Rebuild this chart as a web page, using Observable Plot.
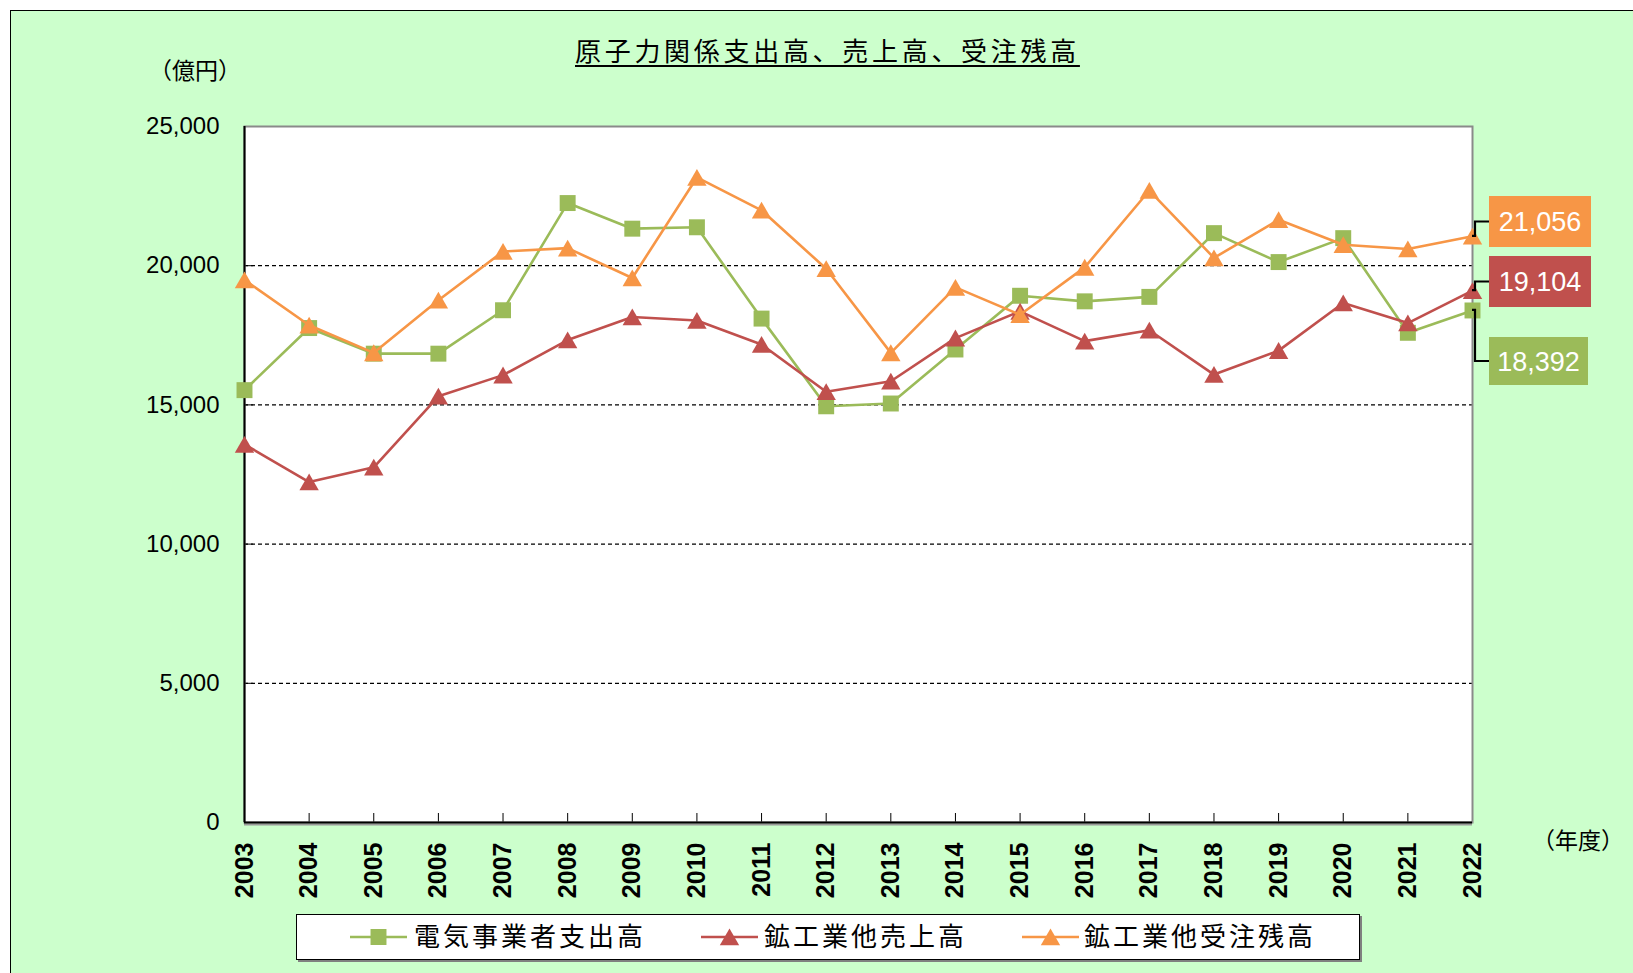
<!DOCTYPE html>
<html><head><meta charset="utf-8">
<script src="https://cdn.jsdelivr.net/npm/d3@7"></script>
<script src="https://cdn.jsdelivr.net/npm/@observablehq/plot@0.6"></script>
<style>
body{margin:0;background:#fff;}
#page{position:relative;width:1633px;height:973px;overflow:hidden;background:#fff;font-family:"Noto Sans CJK JP",sans-serif;}
#panel{position:absolute;left:10px;top:10px;width:1700px;height:1000px;background:#CCFFCC;border-left:1.5px solid #000;border-top:1.5px solid #000;}
#chart{position:absolute;left:0;top:0;}
.lbl{position:absolute;white-space:nowrap;color:#000;line-height:26px;}
#legend{position:absolute;left:296px;top:914px;width:1062px;height:44px;border:1.5px solid #000;background:#fff;box-shadow:2px 2px 0 #808080;}
</style></head>
<body>
<div id="page">
  <div id="panel"></div>
  <div id="chart"></div>
  <div class="lbl" id="title" style="left:575px;top:37px;font-size:26px;letter-spacing:3.7px;text-decoration:underline;text-decoration-thickness:1.5px;text-underline-offset:4px;"></div>
  <div class="lbl" id="yunit" style="left:149px;top:58px;width:92px;text-align:center;font-size:23px;line-height:23px;"></div>
  <div class="lbl" id="xunit" style="left:1532px;top:828px;width:92px;text-align:center;font-size:23px;line-height:23px;"></div>
  <div id="legend"></div>
</div>
<script>
const titleText = "原子力関係支出高、売上高、受注残高";
const yUnit = "（億円）";
const xUnit = "（年度）";
const years = [2003,2004,2005,2006,2007,2008,2009,2010,2011,2012,2013,2014,2015,2016,2017,2018,2019,2020,2021,2022];
const seriesNames = ["電気事業者支出高","鉱工業他売上高","鉱工業他受注残高"];
const electric = [15530,17760,16840,16840,18400,22250,21330,21380,18100,14950,15050,16990,18920,18720,18880,21170,20130,20990,17590,18392];
const sales    = [13580,12230,12760,15310,16070,17330,18160,18030,17170,15470,15850,17400,18360,17290,17680,16090,16950,18660,17940,19104];
const backlog  = [19490,17860,16870,18760,20510,20630,19560,23170,21990,19890,16870,19220,18240,19940,22700,20280,21650,20750,20600,21056];
const yTicks = [0,5000,10000,15000,20000,25000];
const gridTicks = [5000,10000,15000,20000];
const colors = ["#9BBB59","#C0504D","#F79646"];
const symbols = ["square","triangle","triangle"];

const seriesValues = [electric, sales, backlog];
const tables = seriesValues.map((vals, i) => years.map((yr, j) => ({year: yr, value: vals[j], series: seriesNames[i]})));

const fmt = d3.format(",");
const symR = s => s === "square" ? 9 : 7.2;
const symDy = s => s === "square" ? 0 : 2.7;

const marks = [
  Plot.frame({fill: "#fff"}),
  Plot.gridY(gridTicks, {stroke: "#000", strokeOpacity: 1, strokeWidth: 1.2, strokeDasharray: "4,3"}),
  Plot.tickY(yTicks, {y: d => d, insetRight: 1228 - 9, stroke: "#000"}),
  Plot.tickX(years, {x: d => d, insetTop: 696 - 9, stroke: "#000"}),
  Plot.frame({stroke: "#8a8a8a", strokeWidth: 2}),
  Plot.ruleY([0], {dy: 2, stroke: "#9a9a9a", strokeWidth: 2}),
  Plot.ruleX([years[0]], {stroke: "#000", strokeWidth: 2}),
  Plot.ruleY([0], {stroke: "#000", strokeWidth: 2}),
  Plot.axisY(yTicks, {tickSize: 0, tickPadding: 25, tickFormat: fmt, fontSize: 24, fontFamily: "Liberation Sans, Arial, sans-serif", fill: "#000", label: null}),
  Plot.text(years, {x: d => d, text: d => String(d), frameAnchor: "bottom", dy: 20, rotate: -90, textAnchor: "end", lineAnchor: "middle", fontSize: 25, fontWeight: "bold", fontFamily: "Liberation Sans, Arial, sans-serif", fill: "#000"})
];
tables.forEach((t, i) => {
  marks.push(Plot.line(t, {x: "year", y: "value", stroke: colors[i], strokeWidth: 2.6}));
  marks.push(Plot.dot(t, {x: "year", y: "value", symbol: symbols[i], fill: colors[i], stroke: "none", r: symR(symbols[i]), dy: symDy(symbols[i])}));
});

const chart = Plot.plot({
  width: 1633,
  height: 973,
  marginLeft: 244,
  marginRight: 161,
  marginTop: 126,
  marginBottom: 151,
  style: {background: "transparent", overflow: "visible"},
  x: {type: "point", domain: years, padding: 0, round: false, axis: null},
  y: {domain: [0, 25000]},
  marks
});
document.getElementById("chart").appendChild(chart);

// End-of-series value labels with leader lines
const ys = chart.scale("y");
const xs = chart.scale("x");
const last = seriesValues.map(v => v[v.length - 1]);
const boxes = [
  {i: 2, top: 196, h: 51, w: 102},
  {i: 1, top: 256, h: 51, w: 102},
  {i: 0, top: 337, h: 48, w: 99}
];
const svg = d3.select(chart);
const g = svg.append("g");
const xEnd = xs.apply(years[years.length - 1]);
boxes.forEach(b => {
  const v = last[b.i];
  const py = ys.apply(v);
  const cy = b.top + b.h / 2;
  const bx = 1489;
  g.append("path")
    .attr("d", `M${xEnd},${py} H${xEnd + 3} V${cy} H${bx}`)
    .attr("fill", "none").attr("stroke", "#000").attr("stroke-width", 2.2);
  g.append("rect").attr("x", bx).attr("y", b.top).attr("width", b.w).attr("height", b.h).attr("fill", colors[b.i]);
  g.append("text").attr("x", bx + b.w / 2).attr("y", cy).attr("dy", "0.36em")
    .attr("text-anchor", "middle").attr("fill", "#fff")
    .attr("font-family", "Liberation Sans, Arial, sans-serif").attr("font-size", 27)
    .text(fmt(v));
});

document.getElementById("title").textContent = titleText;
document.getElementById("yunit").textContent = yUnit;
document.getElementById("xunit").textContent = xUnit;

// Legend
const legend = document.getElementById("legend");
const swX = [53, 404, 725];
const txX = [117, 467, 787];
seriesNames.forEach((name, i) => {
  const sw = document.createElementNS("http://www.w3.org/2000/svg", "svg");
  sw.setAttribute("width", 57); sw.setAttribute("height", 44);
  sw.style.position = "absolute"; sw.style.left = swX[i] + "px"; sw.style.top = "0px";
  const line = document.createElementNS("http://www.w3.org/2000/svg", "line");
  line.setAttribute("x1", 0); line.setAttribute("x2", 57); line.setAttribute("y1", 22); line.setAttribute("y2", 22);
  line.setAttribute("stroke", colors[i]); line.setAttribute("stroke-width", 2.6);
  sw.appendChild(line);
  const p = document.createElementNS("http://www.w3.org/2000/svg", "path");
  const sym = symbols[i] === "square" ? d3.symbolSquare : d3.symbolTriangle;
  const r = symR(symbols[i]);
  p.setAttribute("d", d3.symbol(sym, Math.PI * r * r)());
  p.setAttribute("transform", `translate(28.5,${22 + symDy(symbols[i])})`);
  p.setAttribute("fill", colors[i]);
  sw.appendChild(p);
  legend.appendChild(sw);
  const t = document.createElement("div");
  t.className = "lbl";
  t.style.left = txX[i] + "px"; t.style.top = "7px"; t.style.fontSize = "26px"; t.style.letterSpacing = "3px";
  t.textContent = name;
  legend.appendChild(t);
});
</script>
</body></html>
